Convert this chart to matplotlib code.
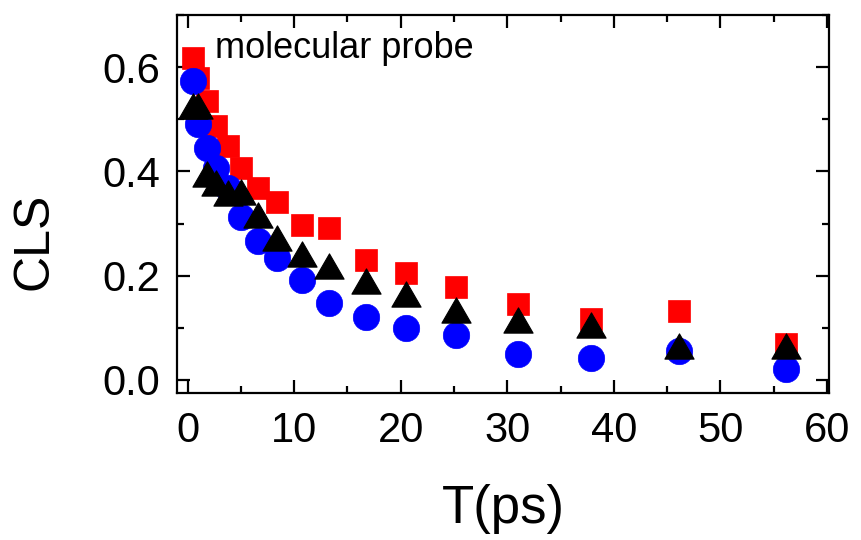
import matplotlib
matplotlib.use("Agg")
import matplotlib.pyplot as plt
from matplotlib.path import Path
from matplotlib.ticker import MultipleLocator

plt.rcParams['font.family'] = ['Liberation Sans', 'DejaVu Sans']

t = [0.5, 1.0, 1.8, 2.7, 3.75, 5.0, 6.6, 8.4, 10.7, 13.3, 16.7, 20.5, 25.2, 31.0, 37.9, 46.1, 56.2]
cls_red = [0.617, 0.579, 0.535, 0.487, 0.449, 0.407, 0.369, 0.342, 0.298, 0.292,
           0.231, 0.206, 0.178, 0.145, 0.117, 0.132, 0.069]
cls_blue = [0.573, 0.491, 0.445, 0.407, 0.369, 0.312, 0.267, 0.233, 0.191, 0.147,
            0.120, 0.099, 0.086, 0.050, 0.042, 0.055, 0.021]
cls_black = [0.525, 0.525, 0.396, 0.378, 0.359, 0.361, 0.317, 0.273, 0.241, 0.218,
             0.189, 0.164, 0.134, 0.115, 0.105, 0.065, 0.065]

tri = Path([(0, 0.433), (-0.5, -0.433), (0.5, -0.433), (0, 0.433)],
           [Path.MOVETO, Path.LINETO, Path.LINETO, Path.CLOSEPOLY])

fig = plt.figure(figsize=(8.61, 5.4), dpi=100)
ax = fig.add_axes([0.2056, 0.2722, 0.7572, 0.70])

ax.plot(t, cls_red, linestyle='none', marker='s', markersize=16,
        markerfacecolor='#ff0000', markeredgecolor='#ff0000', markeredgewidth=0.5, zorder=3)
ax.plot(t, cls_blue, linestyle='none', marker='o', markersize=19,
        markerfacecolor='#0000ff', markeredgecolor='#0000ff', markeredgewidth=0.5, zorder=4)
ax.plot(t, cls_black, linestyle='none', marker=tri, markersize=21,
        markerfacecolor='black', markeredgecolor='black', markeredgewidth=0.8, zorder=5)

ax.set_xlim(-1, 60.2)
ax.set_ylim(-0.025, 0.7)
ax.xaxis.set_major_locator(MultipleLocator(10))
ax.xaxis.set_minor_locator(MultipleLocator(5))
ax.yaxis.set_major_locator(MultipleLocator(0.2))
ax.yaxis.set_minor_locator(MultipleLocator(0.1))
ax.yaxis.set_major_formatter(matplotlib.ticker.FormatStrFormatter('%.1f'))

for s in ax.spines.values():
    s.set_linewidth(1.6)
ax.tick_params(which='both', direction='in', top=True, right=True, width=1.6)
ax.tick_params(which='major', length=9.5, labelsize=30)
ax.tick_params(axis='x', which='major', pad=13)
ax.tick_params(axis='y', which='major', pad=12)
ax.tick_params(which='minor', length=5)

ax.set_xlabel('T(ps)', fontsize=38, labelpad=24)
ax.set_ylabel('CLS', fontsize=36)
ax.yaxis.set_label_coords(-0.183, 0.40)

ax.text(2.6, 0.617, 'molecular probe', fontsize=26, ha='left', va='baseline')

fig.savefig('out.png', dpi=100)
